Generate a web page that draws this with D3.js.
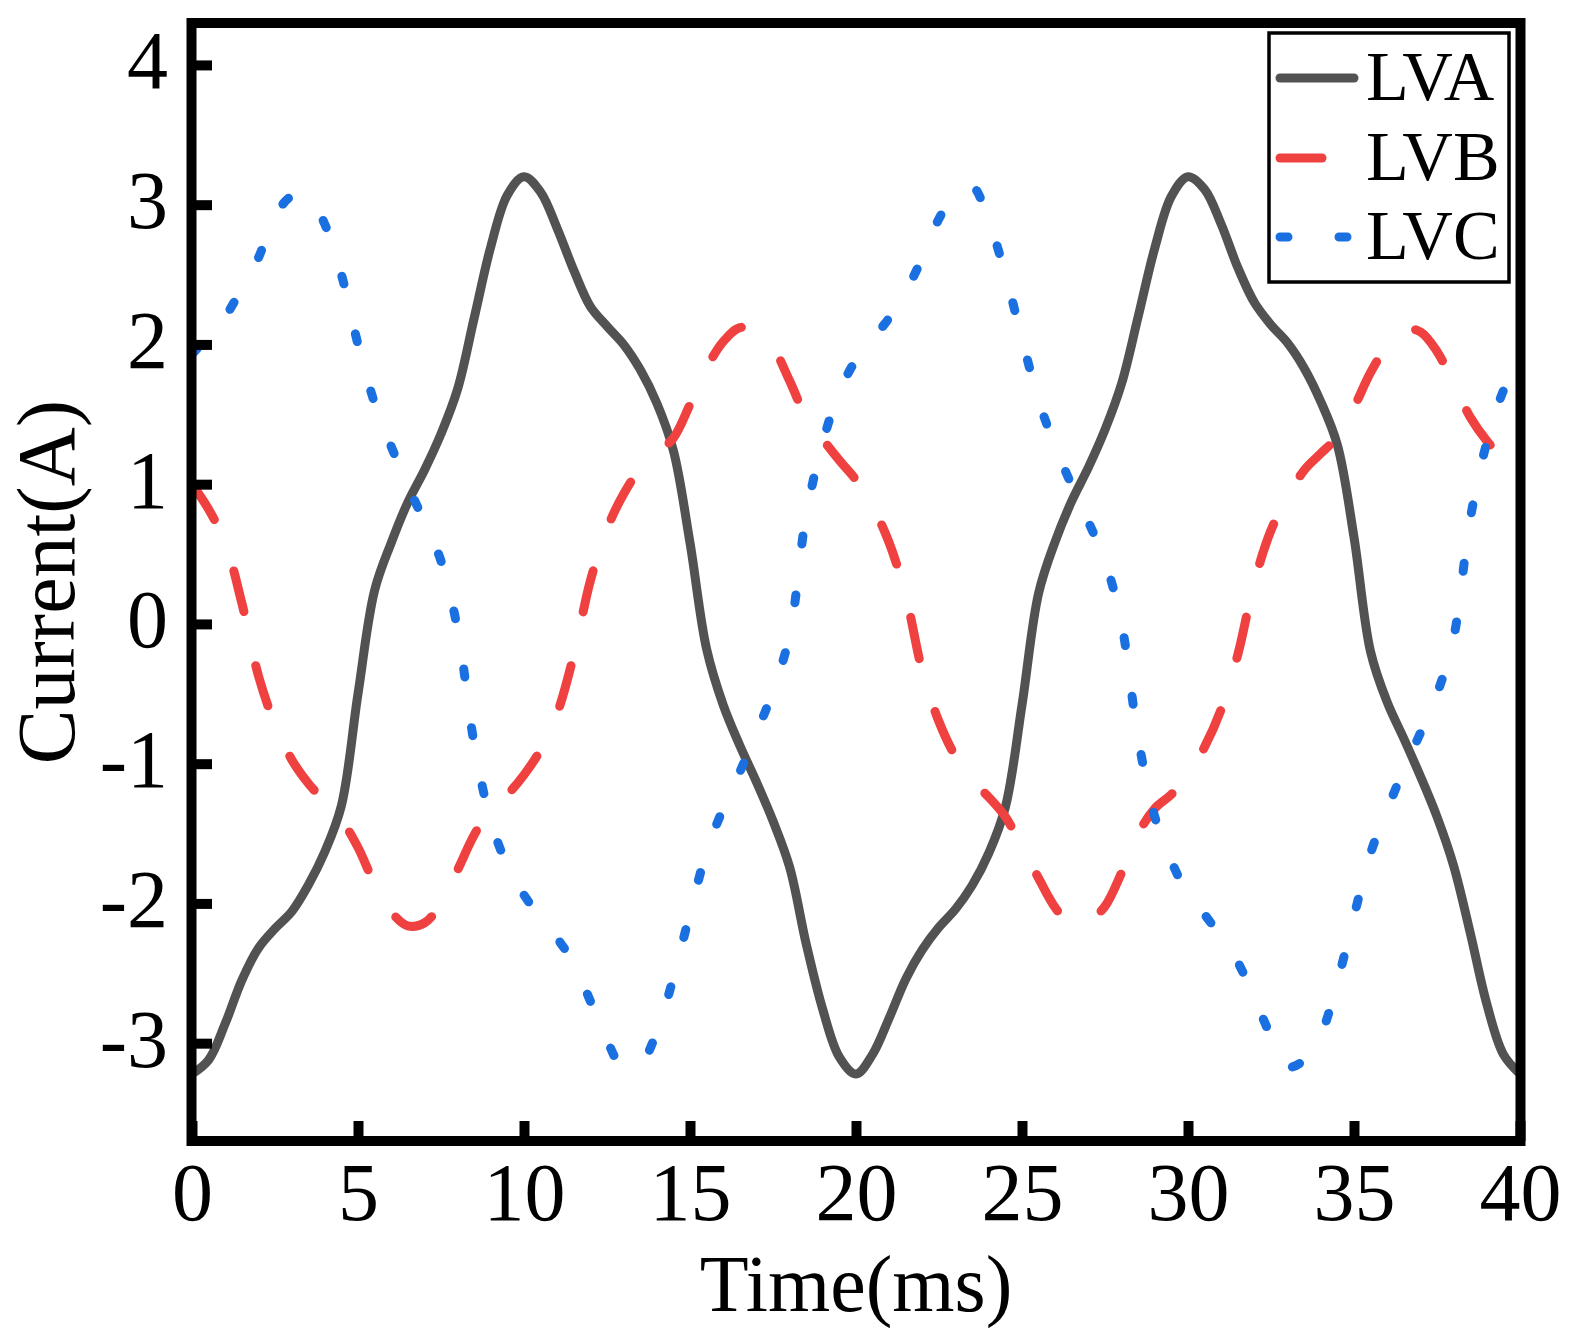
<!DOCTYPE html>
<html>
<head>
<meta charset="utf-8">
<script src="https://cdn.jsdelivr.net/npm/d3@7"></script>
<style>
  body { margin: 0; background: #fff; }
  .tick text { font-family: "Liberation Serif", "Times New Roman", serif; }
</style>
</head>
<body>
<div id="chart"></div>
<script>
// time axis (ms)
let time_ms = [0, 0.5, 1, 1.5, 2, 2.5, 3, 3.5, 4, 4.5, 5, 5.5, 6, 6.5, 7, 7.5, 8, 8.5, 9, 9.5,
  10, 10.5, 11, 11.5, 12, 12.5, 13, 13.5, 14, 14.5, 15, 15.5, 16, 16.5, 17, 17.5, 18, 18.5, 19, 19.5,
  20, 20.5, 21, 21.5, 22, 22.5, 23, 23.5, 24, 24.5, 25, 25.5, 26, 26.5, 27, 27.5, 28, 28.5, 29, 29.5,
  30, 30.5, 31, 31.5, 32, 32.5, 33, 33.5, 34, 34.5, 35, 35.5, 36, 36.5, 37, 37.5, 38, 38.5, 39, 39.5, 40];

// phase currents (A), every 0.5 ms
let lva = [-3.22, -3.12, -2.86, -2.55, -2.32, -2.18, -2.06, -1.87, -1.63, -1.30,
  -0.50, 0.24, 0.58, 0.87, 1.10, 1.36, 1.68, 2.19, 2.70, 3.07,
  3.20, 3.09, 2.83, 2.53, 2.27, 2.13, 2.00, 1.82, 1.58, 1.24,
  0.58, -0.18, -0.58, -0.87, -1.13, -1.41, -1.74, -2.29, -2.76, -3.10,
  -3.22, -3.08, -2.82, -2.54, -2.33, -2.17, -2.04, -1.87, -1.64, -1.31,
  -0.58, 0.22, 0.59, 0.88, 1.12, 1.39, 1.72, 2.20, 2.69, 3.06,
  3.20, 3.11, 2.86, 2.55, 2.30, 2.14, 2.01, 1.83, 1.59, 1.28,
  0.62, -0.20, -0.56, -0.82, -1.09, -1.38, -1.73, -2.21, -2.72, -3.08, -3.22];

let lvb = [1.00, 0.82, 0.58, 0.15, -0.37, -0.72, -0.97, -1.14, -1.27, -1.40,
  -1.60, -1.86, -2.06, -2.16, -2.14, -2.00, -1.76, -1.51, -1.32, -1.22,
  -1.08, -0.90, -0.64, -0.22, 0.31, 0.68, 0.93, 1.11, 1.22, 1.33,
  1.57, 1.83, 2.02, 2.12, 2.10, 1.98, 1.74, 1.48, 1.32, 1.17,
  1.03, 0.84, 0.58, 0.20, -0.34, -0.70, -0.95, -1.12, -1.24, -1.38,
  -1.60, -1.82, -2.03, -2.16, -2.13, -2.02, -1.78, -1.50, -1.32, -1.22,
  -1.08, -0.88, -0.61, -0.22, 0.30, 0.67, 0.91, 1.10, 1.22, 1.34,
  1.55, 1.80, 1.99, 2.11, 2.09, 1.95, 1.72, 1.48, 1.31, 1.18, 1.02];

let lvc = [1.93, 2.06, 2.20, 2.40, 2.62, 2.92, 3.06, 3.07, 2.86, 2.50,
  2.00, 1.58, 1.27, 0.99, 0.73, 0.45, -0.04, -0.86, -1.41, -1.73,
  -1.94, -2.10, -2.25, -2.43, -2.70, -2.98, -3.18, -3.15, -2.92, -2.53,
  -2.07, -1.63, -1.32, -1.06, -0.78, -0.48, -0.08, 0.78, 1.30, 1.66,
  1.89, 2.04, 2.19, 2.38, 2.62, 2.90, 3.08, 3.13, 2.88, 2.50,
  2.04, 1.60, 1.27, 0.99, 0.73, 0.45, 0.00, -0.82, -1.38, -1.70,
  -1.93, -2.08, -2.24, -2.42, -2.68, -2.95, -3.17, -3.12, -2.94, -2.56,
  -2.09, -1.64, -1.33, -1.04, -0.78, -0.50, -0.10, 0.75, 1.30, 1.67, 1.90];

let series_names = ["LVA", "LVB", "LVC"];
let x_ticks = [0, 5, 10, 15, 20, 25, 30, 35, 40];
let y_ticks = [-3, -2, -1, 0, 1, 2, 3, 4];

let total_width = 1573;
let total_height = 1342;
let serif = '"Liberation Serif", "Times New Roman", serif';

let styles = [
  {color: "#525252", dash: null},
  {color: "#F04141", dash: "42 55"},
  {color: "#1A70E0", dash: "8 51"}
];

var x = d3.scaleLinear().domain([0, 40]).range([192, 1520]);
var y = d3.scaleLinear().domain([-3.7, 4.3]).range([1141, 23]);

var svg = d3.select("#chart").append("svg")
    .attr("width", total_width)
    .attr("height", total_height);

svg.append("defs").append("clipPath").attr("id", "plot-clip")
  .append("rect")
    .attr("x", x.range()[0])
    .attr("y", y.range()[1])
    .attr("width", x.range()[1] - x.range()[0])
    .attr("height", y.range()[0] - y.range()[1]);

var line = d3.line()
    .x(d => x(d[0]))
    .y(d => y(d[1]))
    .curve(d3.curveCatmullRom.alpha(0.5));

let all_series = [lva, lvb, lvc];
let lines_g = svg.append("g").attr("clip-path", "url(#plot-clip)");
all_series.forEach((vals, i) => {
  let pts = time_ms.map((t, j) => [t, vals[j]]);
  lines_g.append("path")
    .datum(pts)
    .attr("d", line)
    .attr("fill", "none")
    .attr("stroke", styles[i].color)
    .attr("stroke-width", 9)
    .attr("stroke-linecap", "round")
    .attr("stroke-linejoin", "round")
    .attr("stroke-dasharray", styles[i].dash);
});

// axes, ticks pointing inward
let fmt = d => String(d);
let x_axis = svg.append("g")
    .attr("transform", "translate(0," + y.range()[0] + ")")
    .call(d3.axisBottom(x).tickValues(x_ticks).tickSize(-20).tickPadding(21).tickFormat(fmt));
let y_axis = svg.append("g")
    .attr("transform", "translate(" + x.range()[0] + ",0)")
    .call(d3.axisLeft(y).tickValues(y_ticks).tickSize(-20).tickPadding(24).tickFormat(fmt));

[x_axis, y_axis].forEach(g => {
  g.select(".domain").remove();
  g.selectAll(".tick line").attr("stroke", "#000").attr("stroke-width", 10);
  g.selectAll(".tick text")
    .attr("fill", "#000")
    .style("font-family", serif)
    .style("font-size", "82px");
});
y_axis.selectAll(".tick text").attr("dy", "0.28em");

// frame
svg.append("rect")
    .attr("x", x.range()[0] - 0.5)
    .attr("y", y.range()[1])
    .attr("width", x.range()[1] - x.range()[0] + 1)
    .attr("height", y.range()[0] - y.range()[1])
    .attr("fill", "none")
    .attr("stroke", "#000")
    .attr("stroke-width", 10);

// axis titles
svg.append("text")
    .attr("x", (x.range()[0] + x.range()[1]) / 2)
    .attr("y", 1311)
    .attr("text-anchor", "middle")
    .style("font-family", serif)
    .style("font-size", "80px")
    .text("Time(ms)");

svg.append("text")
    .attr("transform", "translate(74," + (y.range()[0] + y.range()[1]) / 2 + ") rotate(-90)")
    .attr("text-anchor", "middle")
    .style("font-family", serif)
    .style("font-size", "82px")
    .text("Current(A)");

// legend
let legend = svg.append("g");
legend.append("rect")
    .attr("x", 1269)
    .attr("y", 33)
    .attr("width", 240)
    .attr("height", 249)
    .attr("fill", "#fff")
    .attr("stroke", "#000")
    .attr("stroke-width", 3.5);

let legend_rows = [78, 158, 237];
series_names.forEach((name, i) => {
  legend.append("line")
    .attr("x1", 1280).attr("x2", 1354)
    .attr("y1", legend_rows[i]).attr("y2", legend_rows[i])
    .attr("stroke", styles[i].color)
    .attr("stroke-width", 9)
    .attr("stroke-linecap", "round")
    .attr("stroke-dasharray", styles[i].dash);
  legend.append("text")
    .attr("x", 1366)
    .attr("y", legend_rows[i] + 22)
    .style("font-family", serif)
    .style("font-size", "70px")
    .text(name);
});
</script>
</body>
</html>
